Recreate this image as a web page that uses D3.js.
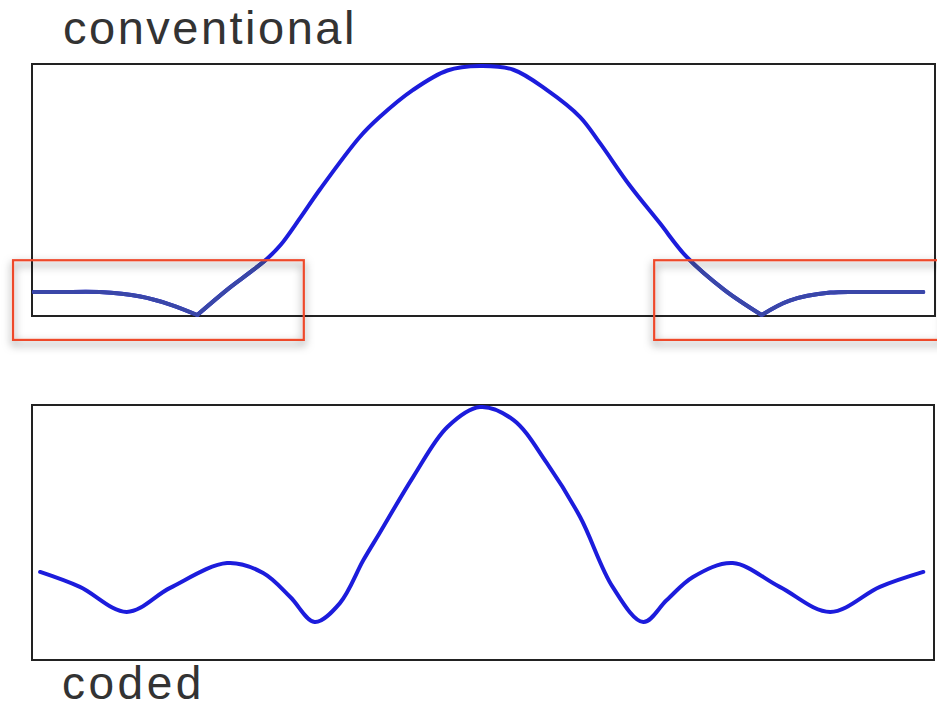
<!DOCTYPE html>
<html>
<head>
<meta charset="utf-8">
<script src="https://cdn.jsdelivr.net/npm/d3@7"></script>
<style>
  html, body { margin: 0; padding: 0; background: #fff; }
  svg { display: block; }
  text { font-family: "Liberation Sans", Arial, sans-serif; }
</style>
</head>
<body>
<svg id="chart" width="937" height="709"></svg>
<script>
// ---- data (position across panel 0..100, normalised amplitude 0..1) ----
const conventionalX = [0.2, 3.1, 7.5, 12.0, 15.3, 18.3, 21.9, 24.1, 26.0, 27.5, 29.7, 31.9, 36.3, 38.5, 42.2, 46.0, 49.6, 53.3, 57.0, 60.7, 62.9, 66.2, 69.5, 72.5, 76.7, 80.8, 83.9, 88.4, 92.8, 98.7];
const conventionalY = [0.092, 0.092, 0.092, 0.074, 0.042, 0, 0.11, 0.17, 0.225, 0.28, 0.39, 0.505, 0.715, 0.795, 0.904, 0.982, 1.0, 0.985, 0.904, 0.795, 0.69, 0.52, 0.37, 0.233, 0.10, 0, 0.058, 0.090, 0.092, 0.092];

const codedX = [0.9, 5.3, 10.5, 15.3, 21.6, 25.6, 28.6, 31.3, 34.1, 36.7, 38.5, 42.2, 46.0, 49.6, 53.3, 57.0, 60.7, 64.3, 67.7, 70.3, 73.2, 77.6, 82.8, 88.4, 93.9, 98.7];
const codedY = [0.348, 0.289, 0.190, 0.285, 0.383, 0.344, 0.249, 0.150, 0.225, 0.395, 0.502, 0.723, 0.921, 1.0, 0.949, 0.779, 0.565, 0.289, 0.150, 0.237, 0.328, 0.383, 0.289, 0.190, 0.289, 0.348];

const panelTitles = ["conventional", "coded"];
// highlighted ranges (position units / amplitude) on the conventional panel
const highlightX0 = [-2.1, 68.9];
const highlightX1 = [30.1, 101.0];
const highlightY0 = [-0.10, -0.10];
const highlightY1 = [0.22, 0.22];

// ---- layout ----
const svg = d3.select("#chart");
const blue = "#1c1cdc";

const x = d3.scaleLinear().domain([0, 100]).range([32, 935]);
const yTop = d3.scaleLinear().domain([0, 1]).range([315, 66]);
const yBot = d3.scaleLinear().domain([0, 1]).range([660, 407]);

const defs = svg.append("defs");
const f = defs.append("filter").attr("id", "shadow")
  .attr("x", "-10%").attr("y", "-30%").attr("width", "120%").attr("height", "170%");
f.append("feDropShadow").attr("dx", 0).attr("dy", 4).attr("stdDeviation", 4)
  .attr("flood-color", "#000").attr("flood-opacity", 0.55);

// split a series into segments at zeros so the cusps stay sharp
function segments(xs, ys) {
  const pts = xs.map((v, i) => [v, ys[i]]);
  const segs = [];
  let cur = [];
  pts.forEach((p, i) => {
    cur.push(p);
    if (p[1] === 0 && i > 0 && i < pts.length - 1) {
      segs.push(cur);
      cur = [p];
    }
  });
  segs.push(cur);
  return segs;
}

// ---- top panel: conventional ----
svg.append("text").attr("x", 63).attr("y", 44)
  .attr("font-size", 47).attr("letter-spacing", 2.5).attr("fill", "#333")
  .text(panelTitles[0]);

svg.append("rect").attr("x", 32).attr("y", 64).attr("width", 903).attr("height", 252)
  .attr("fill", "#fff").attr("stroke", "#222").attr("stroke-width", 2);

const lineTop = d3.line().x(d => x(d[0])).y(d => yTop(d[1])).curve(d3.curveCatmullRom.alpha(0.5));
const topSegs = segments(conventionalX, conventionalY);
const topG = svg.append("g");
topSegs.forEach(s => {
  topG.append("path").attr("d", lineTop(s)).attr("fill", "none")
    .attr("stroke", blue).attr("stroke-width", 4).attr("stroke-linejoin", "round").attr("stroke-linecap", "round");
});

// highlight boxes
highlightX0.forEach((x0, i) => {
  const rx = x(x0), rw = x(highlightX1[i]) - x(x0);
  const ry = yTop(highlightY1[i]), rh = yTop(highlightY0[i]) - yTop(highlightY1[i]);
  const cid = "clip" + i;
  defs.append("clipPath").attr("id", cid).append("rect")
    .attr("x", rx).attr("y", ry).attr("width", rw).attr("height", rh);
  const g = svg.append("g").attr("clip-path", `url(#${cid})`);
  topSegs.forEach(s => {
    g.append("path").attr("d", lineTop(s)).attr("fill", "none")
      .attr("stroke", "#3a47a8").attr("stroke-width", 4).attr("stroke-linejoin", "round").attr("stroke-linecap", "round");
  });
  svg.append("rect").attr("x", rx).attr("y", ry).attr("width", rw).attr("height", rh)
    .attr("fill", "none").attr("stroke", "#ee4a2c").attr("stroke-width", 2.2)
    .attr("filter", "url(#shadow)");
});

// ---- bottom panel: coded ----
svg.append("rect").attr("x", 32).attr("y", 405).attr("width", 902).attr("height", 255)
  .attr("fill", "#fff").attr("stroke", "#222").attr("stroke-width", 2);

const lineBot = d3.line().x(d => x(d[0])).y(d => yBot(d[1])).curve(d3.curveCatmullRom.alpha(0.5));
svg.append("path").attr("d", lineBot(codedX.map((v, i) => [v, codedY[i]])))
  .attr("fill", "none").attr("stroke", blue).attr("stroke-width", 4)
  .attr("stroke-linejoin", "round").attr("stroke-linecap", "round");

svg.append("text").attr("x", 62).attr("y", 699)
  .attr("font-size", 46).attr("letter-spacing", 3.5).attr("fill", "#333")
  .text(panelTitles[1]);
</script>
</body>
</html>
